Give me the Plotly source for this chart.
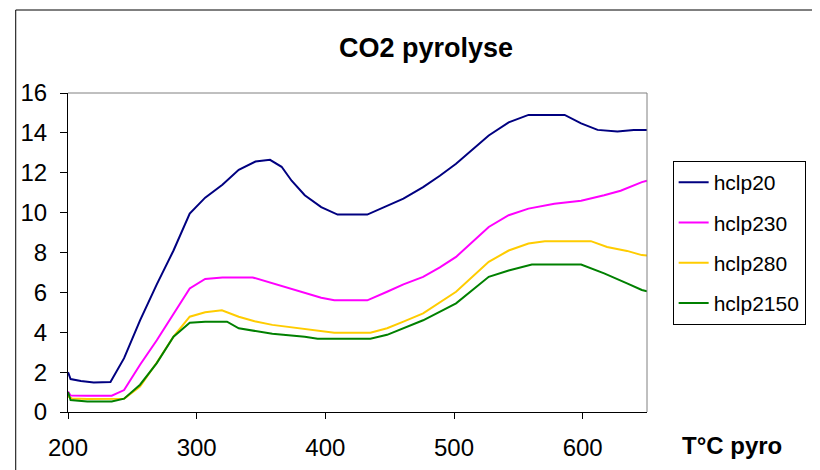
import plotly.graph_objects as go

# temperatures (°C) and CO2 values, one pair per series
t_hclp20 = [200, 202, 210, 220, 233, 243.6, 256, 269, 282, 294.6, 306.6, 320, 332.7, 345.7, 357, 366,
            373.8, 384, 396.8, 409.5, 432.6, 448, 460.7, 476, 489, 501.6, 514, 527, 542.5, 557.9, 586,
            598.8, 611.6, 627, 639.7, 650]
hclp20 = [2.0, 1.65, 1.55, 1.48, 1.5, 2.7, 4.6, 6.4, 8.1, 9.95, 10.75, 11.4, 12.15, 12.56, 12.65, 12.3,
          11.6, 10.87, 10.28, 9.9, 9.9, 10.36, 10.7, 11.28, 11.85, 12.45, 13.15, 13.87, 14.53, 14.9, 14.9,
          14.48, 14.15, 14.07, 14.15, 14.15]

t_hclp230 = [200, 202, 215, 234, 243.6, 256, 269, 282, 294.6, 306.6, 320, 343.5, 358.8, 371.6, 384,
             396.8, 407, 432.6, 448, 460.7, 476, 489, 501.6, 514, 527, 542.5, 557.9, 578, 598.8, 616.7,
             629.5, 646, 650]
hclp230 = [1.03, 0.83, 0.82, 0.82, 1.1, 2.37, 3.6, 4.95, 6.2, 6.67, 6.75, 6.75, 6.45, 6.2, 5.95,
           5.73, 5.6, 5.6, 6.03, 6.4, 6.78, 7.25, 7.78, 8.5, 9.28, 9.87, 10.2, 10.45, 10.6, 10.87,
           11.1, 11.53, 11.6]

t_hclp280 = [200, 203, 215, 234, 243.6, 256, 269, 282, 294.6, 306.6, 319.6, 332.7, 345, 358.8, 384,
             407, 435, 448, 460.7, 476, 501.6, 527, 542.5, 557.9, 570.6, 606.4, 619, 634.5, 646, 650]
hclp280 = [0.78, 0.68, 0.65, 0.65, 0.67, 1.28, 2.48, 3.78, 4.78, 5.0, 5.1, 4.78, 4.55, 4.37, 4.15,
           3.98, 3.98, 4.2, 4.53, 4.95, 6.03, 7.53, 8.1, 8.45, 8.57, 8.57, 8.28, 8.08, 7.87, 7.85]

t_hclp2150 = [200, 202, 215, 234, 243.6, 256, 269, 282, 294.6, 306.6, 323.6, 332.7, 358.8, 384, 394,
              435, 448, 460.7, 476, 501.6, 527, 542.5, 560.5, 598.8, 616.7, 634.5, 646, 650]
hclp2150 = [1.0, 0.6, 0.53, 0.53, 0.67, 1.37, 2.45, 3.78, 4.48, 4.53, 4.53, 4.2, 3.92, 3.78, 3.68,
            3.68, 3.87, 4.2, 4.6, 5.45, 6.78, 7.1, 7.4, 7.4, 6.95, 6.45, 6.12, 6.05]

x_ticks = [200, 300, 400, 500, 600]
y_ticks = [0, 2, 4, 6, 8, 10, 12, 14, 16]

FONT = "Arial, Liberation Sans, sans-serif"

series = [
    ("hclp20", t_hclp20, hclp20, "#000080"),
    ("hclp230", t_hclp230, hclp230, "#FF00FF"),
    ("hclp280", t_hclp280, hclp280, "#FFCC00"),
    ("hclp2150", t_hclp2150, hclp2150, "#008000"),
]

fig = go.Figure()
for name, t, v, col in series:
    fig.add_trace(go.Scatter(x=t, y=v, mode="lines", name=name, legendgroup=name,
                             line=dict(color=col, width=2)))

# page body adds an 8px offset; plot area on screen: x 60..647, y 93..412
OFF = 8
W, H = 820, 470
X0, X1, Y0, Y1 = 60, 647, 93, 412
L, T = X0 - OFF, Y0 - OFF
R, B = W - (X1 - OFF), H - (Y1 - OFF)
pw, ph = X1 - X0, Y1 - Y0

def px(x):
    return (x - X0) / pw

def py(y):
    return (Y1 - y) / ph

fig.update_layout(
    width=W, height=H,
    margin=dict(l=L, r=R, t=T, b=B),
    paper_bgcolor="white", plot_bgcolor="white",
    font=dict(family=FONT, size=24, color="black"),
    title=dict(text="<b>CO2 pyrolyse</b>", font=dict(size=27), x=px(423), xanchor="center",
               xref="paper", y=1 - (48 - OFF) / H, yanchor="middle", yref="container"),
    xaxis=dict(range=[200, 650], tickvals=x_ticks, showgrid=False, zeroline=False,
               showline=True, linecolor="black", linewidth=1, mirror=False,
               ticks="outside", ticklen=6, tickcolor="black", ticklabelstandoff=8),
    yaxis=dict(range=[0, 16], tickvals=y_ticks, showgrid=False, zeroline=False,
               showline=True, linecolor="black", linewidth=1,
               ticks="outside", ticklen=7, tickcolor="black", ticklabelstandoff=8),
    legend=dict(x=px(673), y=py(161), xanchor="left", yanchor="top",
                bordercolor="black", borderwidth=1, bgcolor="white",
                font=dict(size=21), tracegroupgap=10, traceorder="grouped"),
    showlegend=True,
)

# gray border on top and right of plot area
fig.add_shape(type="line", xref="paper", yref="paper", x0=0, x1=1, y0=1, y1=1,
              line=dict(color="#808080", width=1))
fig.add_shape(type="line", xref="paper", yref="paper", x0=1, x1=1, y0=0, y1=1,
              line=dict(color="#808080", width=1))

# outer chart frame (extends past the window)
fig.add_shape(type="rect", xref="paper", yref="paper", x0=px(7), x1=px(840), y0=py(490), y1=py(10),
              line=dict(color="black", width=1), layer="below")

fig.add_annotation(text="<b>T°C pyro</b>", xref="paper", yref="paper", x=px(680), y=py(445),
                   xanchor="left", yanchor="middle", showarrow=False, font=dict(size=24))

fig.write_html("out.html")
